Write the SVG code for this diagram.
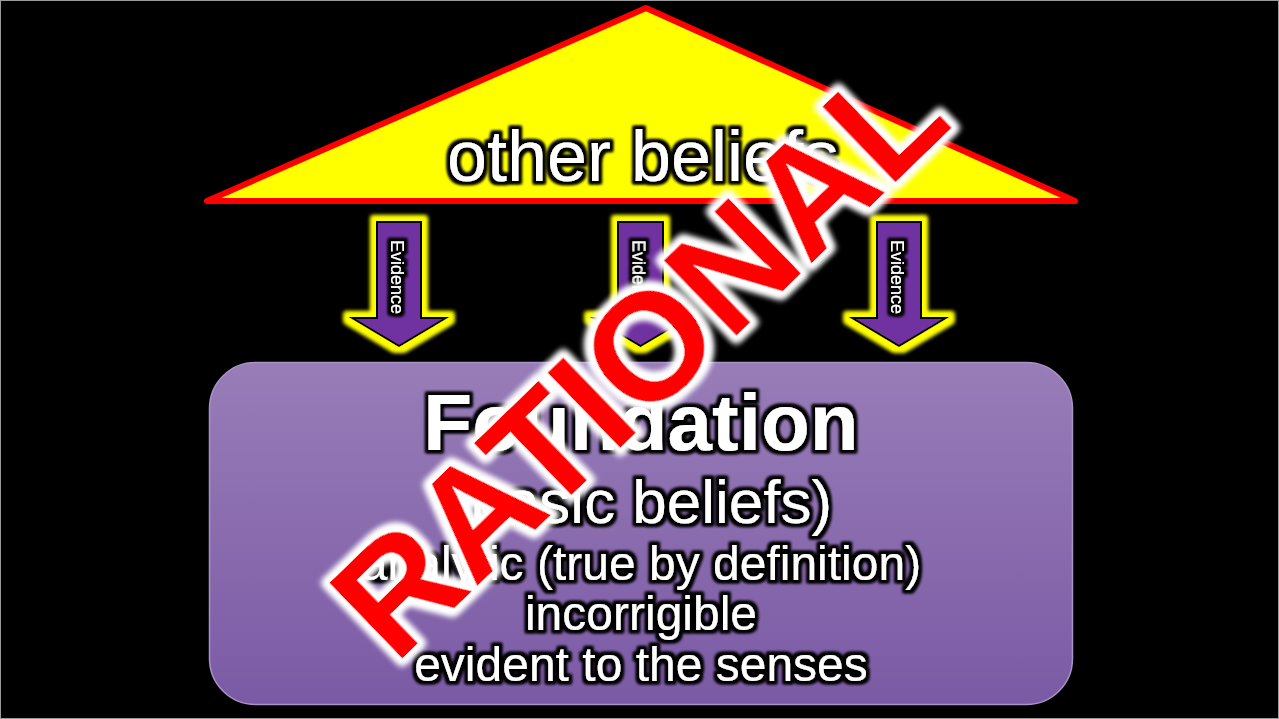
<svg xmlns="http://www.w3.org/2000/svg" width="1279" height="719" viewBox="0 0 1279 719">
<defs>
<style>
.t{font-family:"Liberation Sans",Arial,sans-serif;fill:#fff;text-anchor:middle}
.ev{font-size:18px}
.arrow{fill:#7030a0;stroke:#000;stroke-width:2;stroke-linejoin:miter}
</style>
<filter id="darkGlow" x="-20%" y="-40%" width="140%" height="180%">
<feMorphology in="SourceAlpha" operator="dilate" radius="2.5" result="d"/>
<feGaussianBlur in="d" stdDeviation="1.8" result="b"/>
<feFlood flood-color="#000"/>
<feComposite in2="b" operator="in" result="g"/>
<feMerge><feMergeNode in="g"/><feMergeNode in="g"/><feMergeNode in="SourceGraphic"/></feMerge>
</filter>
<filter id="yellowGlow" x="-50%" y="-20%" width="200%" height="140%">
<feMorphology in="SourceAlpha" operator="dilate" radius="4.5" result="d"/>
<feGaussianBlur in="d" stdDeviation="2" result="b"/>
<feFlood flood-color="#ffff00"/>
<feComposite in2="b" operator="in" result="g"/>
<feMerge><feMergeNode in="g"/><feMergeNode in="g"/><feMergeNode in="SourceGraphic"/></feMerge>
</filter>
<filter id="whiteGlow" x="-20%" y="-40%" width="140%" height="180%">
<feMorphology in="SourceAlpha" operator="dilate" radius="5" result="d"/>
<feGaussianBlur in="d" stdDeviation="3.5" result="b"/>
<feFlood flood-color="#fff"/>
<feComposite in2="b" operator="in" result="g"/>
<feMerge><feMergeNode in="g"/><feMergeNode in="g"/><feMergeNode in="g"/><feMergeNode in="SourceGraphic"/></feMerge>
</filter>
<linearGradient id="boxGrad" x1="0" y1="0" x2="0" y2="1">
<stop offset="0" stop-color="#987db8"/>
<stop offset="1" stop-color="#7b5aa5"/>
</linearGradient>
</defs>
<rect x="0" y="0" width="1279" height="719" fill="#000"/>
<rect x="0.5" y="0.5" width="1278" height="718" fill="none" stroke="#9a9a9a" stroke-width="1"/>

<g id="other-beliefs">
<polygon points="646,8 207,201 1075,201" fill="#ffff00" stroke="#ff0000" stroke-width="6" stroke-linejoin="round"/>
<text class="t" x="643" y="181" font-size="72" filter="url(#darkGlow)">other beliefs</text>
</g>

<g id="connectors">
<g id="evidence-left">
<path class="arrow" filter="url(#yellowGlow)" d="M377,222 H421 V318 H446 L399,346 L352,318 H377 Z"/>
<text class="t ev" transform="translate(399,277) rotate(90)" x="0" y="8" filter="url(#darkGlow)">Evidence</text>
</g>
<g id="evidence-middle">
<path class="arrow" filter="url(#yellowGlow)" d="M618,222 H663 V318 H688 L640.5,346 L593,318 H618 Z"/>
<text class="t ev" transform="translate(640.5,277) rotate(90)" x="0" y="8" filter="url(#darkGlow)">Evidence</text>
</g>
<g id="evidence-right">
<path class="arrow" filter="url(#yellowGlow)" d="M877,222 H921 V318 H946 L899,346 L852,318 H877 Z"/>
<text class="t ev" transform="translate(899,277) rotate(90)" x="0" y="8" filter="url(#darkGlow)">Evidence</text>
</g>
</g>

<g id="foundation">
<rect x="209.5" y="362.5" width="863" height="342" rx="46" ry="46" fill="url(#boxGrad)" stroke="#a893c6" stroke-width="1.5"/>
<g filter="url(#darkGlow)">
<text class="t" x="641" y="450" font-size="80" font-weight="bold">Foundation</text>
<text class="t" x="641" y="523" font-size="62">(basic beliefs)</text>
<text class="t" x="641" y="580" font-size="48">analytic (true by definition)</text>
<text class="t" x="641" y="630" font-size="48">incorrigible</text>
<text class="t" x="641" y="681" font-size="48">evident to the senses</text>
</g>
</g>

<g id="stamp">
<text transform="translate(675,395) rotate(-44)" x="0" y="0" text-anchor="middle" font-family="Liberation Sans, Arial, sans-serif" font-weight="bold" font-size="153" fill="#ff0000" filter="url(#whiteGlow)">RATIONAL</text>
</g>
</svg>
